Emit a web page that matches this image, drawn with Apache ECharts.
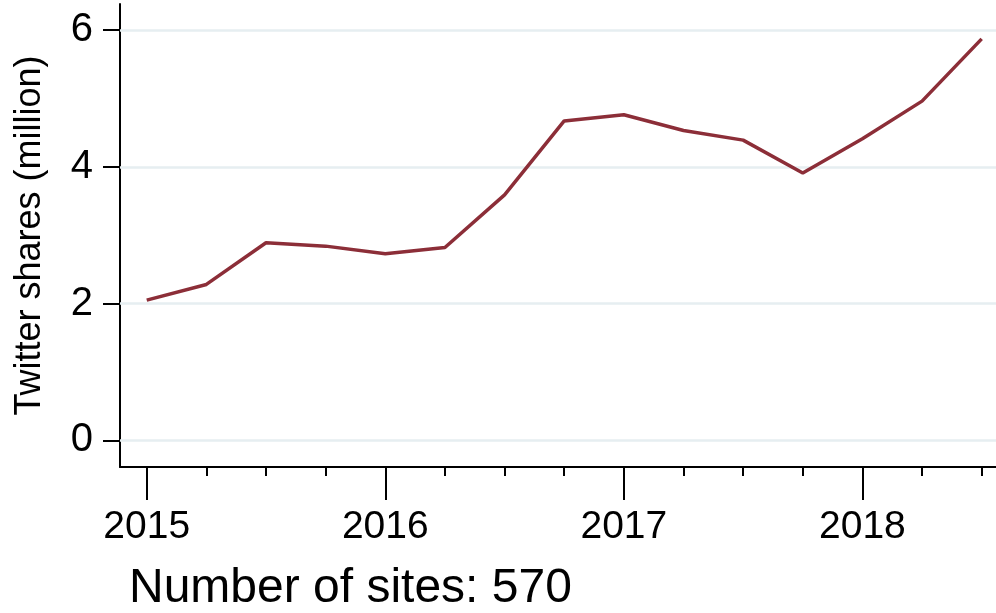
<!DOCTYPE html>
<html>
<head>
<meta charset="utf-8">
<script src="https://cdn.jsdelivr.net/npm/echarts@6/dist/echarts.min.js"></script>
<style>
html,body{margin:0;padding:0;background:#fff;}
#c{width:996px;height:613px;}
</style>
</head>
<body>
<div id="c"></div>
<script>
const periods = [2015, 2015.25, 2015.5, 2015.75, 2016, 2016.25, 2016.5, 2016.75, 2017, 2017.25, 2017.5, 2017.75, 2018, 2018.25, 2018.5];
const shares = [2.05, 2.28, 2.89, 2.84, 2.73, 2.82, 3.59, 4.67, 4.76, 4.53, 4.39, 3.91, 4.41, 4.96, 5.87];
const yearTicks = [2015, 2016, 2017, 2018];
const quarterTicks = [2015.25, 2015.5, 2015.75, 2016.25, 2016.5, 2016.75, 2017.25, 2017.5, 2017.75, 2018.25, 2018.5];
const yTicks = [0, 2, 4, 6];
const yTitle = 'Twitter shares (million)';
const note = 'Number of sites: 570';

const FONT = '"Liberation Sans", Arial, Helvetica, sans-serif';
const chart = echarts.init(document.getElementById('c'));
const xMin = 2014.888, xMax = 2018.56;
chart.setOption({
  animation: false,
  backgroundColor: '#ffffff',
  grid: {left: 120, right: 0, top: 4, bottom: 146, containLabel: false},
  graphic: [{
    type: 'text', left: 129, top: 565,
    style: {text: note, font: '48px ' + FONT, fill: '#000'}
  }],
  xAxis: [{
    type: 'value', min: xMin, max: xMax,
    axisLine: {show: true, onZero: false, lineStyle: {color: '#000', width: 2}},
    axisTick: {show: true, customValues: yearTicks, length: 33, lineStyle: {color: '#000', width: 2}},
    axisLabel: {show: true, customValues: yearTicks, margin: 41, fontSize: 39, fontFamily: FONT, color: '#000',
      formatter: v => String(Math.round(v))},
    splitLine: {show: false}
  }, {
    type: 'value', min: xMin, max: xMax, position: 'bottom', offset: 0,
    axisLine: {show: false, onZero: false},
    axisTick: {show: true, customValues: quarterTicks, length: 9, lineStyle: {color: '#000', width: 2}},
    axisLabel: {show: false},
    splitLine: {show: false}
  }],
  yAxis: {
    type: 'value', min: -0.389, max: 6.38,
    name: yTitle, nameLocation: 'middle', nameGap: 72,
    nameTextStyle: {fontSize: 36, fontFamily: FONT, color: '#000'},
    axisLine: {show: true, onZero: false, lineStyle: {color: '#000', width: 2}},
    axisTick: {show: true, customValues: yTicks, length: 17, lineStyle: {color: '#000', width: 2}},
    axisLabel: {show: true, customValues: yTicks, margin: 27, fontSize: 40, fontFamily: FONT, color: '#000'},
    splitLine: {show: false}
  },
  series: [{
    type: 'line', data: periods.map((p, i) => [p, shares[i]]),
    showSymbol: false, symbol: 'none',
    lineStyle: {color: '#8c2e38', width: 3.5},
    markLine: {
      silent: true, symbol: 'none', label: {show: false}, z: 1,
      lineStyle: {color: '#e6eef1', width: 2.5, type: 'solid'},
      data: yTicks.map(v => ({yAxis: v}))
    },
    z: 3
  }]
});
</script>
</body>
</html>
